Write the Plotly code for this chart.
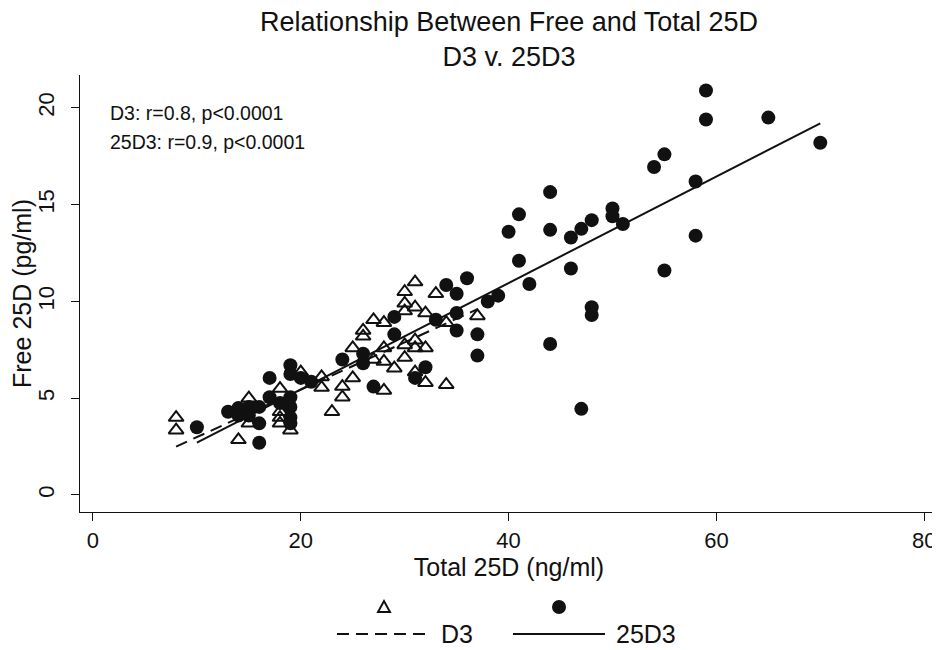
import plotly.graph_objects as go

# ---------------- data ----------------
d3_x = [8, 8, 14, 15, 15, 18, 18, 18, 18, 19, 20, 22, 22, 23, 24, 24, 25, 25,
        26, 26, 27, 28, 27, 28, 28, 28, 29, 30, 31, 33, 30, 30, 31, 32, 30, 31,
        31, 32, 30, 31, 32, 34, 37, 34]
d3_y = [4.0, 3.35, 2.85, 5.0, 3.7, 5.5, 4.3, 4.0, 3.7, 3.35, 6.35, 6.1, 5.55, 4.3,
        5.6, 5.05, 7.6, 6.05, 8.5, 8.2, 9.05, 8.9, 7.0, 6.9, 5.4, 7.6, 6.55, 10.5,
        11.0, 10.4, 9.9, 9.5, 9.7, 9.4, 7.75, 8.0, 7.6, 7.6, 7.1, 6.35, 5.8, 5.7,
        9.25, 8.9]

d25_x = [10, 13, 14, 15, 16, 14, 15, 16, 16, 17, 17, 18, 19, 19, 19, 19, 19, 19,
         20, 21, 24, 26, 26, 27, 29, 29, 31, 32, 33, 34, 35, 35, 35, 36, 37, 37,
         38, 39, 40, 41, 41, 42, 44, 44, 44, 46, 46, 47, 47, 48, 48, 48, 50, 50,
         51, 54, 55, 55, 58, 58, 59, 59, 65, 70]
d25_y = [3.5, 4.3, 4.5, 4.55, 4.55, 4.1, 4.1, 3.7, 2.7, 6.05, 5.05, 4.75, 6.7, 6.25,
         5.05, 4.55, 4.0, 3.7, 6.05, 5.85, 7.0, 7.3, 6.8, 5.6, 9.2, 8.3, 6.05, 6.6,
         9.05, 10.85, 10.4, 9.4, 8.5, 11.2, 8.3, 7.2, 10.0, 10.3, 13.6, 14.5, 12.1,
         10.9, 15.65, 13.7, 7.8, 13.3, 11.7, 13.75, 4.45, 14.2, 9.7, 9.3, 14.8, 14.4,
         14.0, 16.95, 17.6, 11.6, 16.2, 13.4, 20.9, 19.4, 19.5, 18.2]

# fitted lines (end points)
fit_d3_x = [8, 37]
fit_d3_y = [2.5, 9.6]
fit_d25_x = [10, 70]
fit_d25_y = [2.7, 19.2]

x_ticks = [0, 20, 40, 60, 80]
y_ticks = [0, 5, 10, 15, 20]
stats_text = ["D3: r=0.8, p<0.0001", "25D3: r=0.9, p<0.0001"]
legend_labels = ["D3", "25D3"]

FONT = "Liberation Sans, Arial, sans-serif"
INK = "#111111"
DASH = "12px,7px"

fig = go.Figure()
fig.add_trace(go.Scatter(x=d3_x, y=d3_y, mode="markers", name="",
                         marker=dict(symbol="triangle-up-open", size=13, color=INK,
                                     line=dict(width=2, color=INK)),
                         showlegend=False))
fig.add_trace(go.Scatter(x=d25_x, y=d25_y, mode="markers", name="",
                         marker=dict(symbol="circle", size=14, color=INK,
                                     line=dict(width=0)),
                         showlegend=False))
fig.add_trace(go.Scatter(x=fit_d3_x, y=fit_d3_y, mode="lines", name=legend_labels[0],
                         line=dict(color=INK, width=2, dash=DASH), showlegend=False))
fig.add_trace(go.Scatter(x=fit_d25_x, y=fit_d25_y, mode="lines", name=legend_labels[1],
                         line=dict(color=INK, width=2), showlegend=False))

# plot area as it appears on screen (the page body adds an 8px offset)
OFF = 8
L, R, T, B = 80, 938, 75, 512
def px(xp):
    return (xp - L) / (R - L)
def py(yp):
    return (B - yp) / (B - T)

shapes = []
tri_cx, tri_cy = 384, 607
shapes.append(dict(type="path", xref="paper", yref="paper",
                   path=f"M{px(tri_cx-6)},{py(tri_cy+5)} L{px(tri_cx+6)},{py(tri_cy+5)} "
                        f"L{px(tri_cx)},{py(tri_cy-6)} Z",
                   line=dict(color=INK, width=2), fillcolor="rgba(0,0,0,0)"))
dot_cx, dot_cy = 559, 607
shapes.append(dict(type="circle", xref="paper", yref="paper",
                   x0=px(dot_cx-7), x1=px(dot_cx+7), y0=py(dot_cy+7), y1=py(dot_cy-7),
                   line=dict(color=INK, width=0), fillcolor=INK))
shapes.append(dict(type="line", xref="paper", yref="paper",
                   x0=px(337), x1=px(429), y0=py(634), y1=py(634),
                   line=dict(color=INK, width=2, dash=DASH)))
shapes.append(dict(type="line", xref="paper", yref="paper",
                   x0=px(513), x1=px(605), y0=py(634), y1=py(634),
                   line=dict(color=INK, width=2)))

annotations = [
    dict(x=px(108), y=py(113), xref="paper", yref="paper", text=stats_text[0],
         showarrow=False, xanchor="left", yanchor="middle",
         font=dict(family=FONT, size=19.5, color=INK)),
    dict(x=px(108), y=py(142), xref="paper", yref="paper", text=stats_text[1],
         showarrow=False, xanchor="left", yanchor="middle",
         font=dict(family=FONT, size=19.5, color=INK)),
    dict(x=px(439), y=py(634), xref="paper", yref="paper", text=legend_labels[0],
         showarrow=False, xanchor="left", yanchor="middle",
         font=dict(family=FONT, size=25, color=INK)),
    dict(x=px(614), y=py(634), xref="paper", yref="paper", text=legend_labels[1],
         showarrow=False, xanchor="left", yanchor="middle",
         font=dict(family=FONT, size=25, color=INK)),
]

fig.update_layout(
    width=940, height=650,
    margin=dict(l=L - OFF, r=940 - (R - OFF), t=T - OFF, b=650 - (B - OFF)),
    paper_bgcolor="white", plot_bgcolor="white",
    font=dict(family=FONT, color=INK),
    title=dict(text="Relationship Between Free and Total 25D<br>D3 v. 25D3",
               x=px(509), xref="paper", xanchor="center",
               y=1 - 23 / 650, yref="container", yanchor="top",
               font=dict(family=FONT, size=27, color=INK)),
    xaxis=dict(range=[-1.25, 81.33], tickvals=x_ticks, showgrid=False, zeroline=False,
               showline=True, linecolor=INK, linewidth=1.3, ticks="outside",
               ticklen=8, tickwidth=1.3, tickcolor=INK, automargin=False,
               tickfont=dict(family=FONT, size=22, color=INK),
               title=dict(text="Total 25D (ng/ml)", standoff=4,
                          font=dict(family=FONT, size=25, color=INK))),
    yaxis=dict(range=[-0.88, 21.7], tickvals=y_ticks, showgrid=False, zeroline=False,
               showline=True, linecolor=INK, linewidth=1.3, ticks="outside",
               ticklen=8, tickwidth=1.3, tickcolor=INK, tickangle=-90,
               ticklabelstandoff=8, automargin=False,
               tickfont=dict(family=FONT, size=22, color=INK),
               title=dict(text="Free 25D (pg/ml)", standoff=0,
                          font=dict(family=FONT, size=25, color=INK))),
    shapes=shapes,
    annotations=annotations,
    showlegend=False,
)

fig.write_html("out.html")
